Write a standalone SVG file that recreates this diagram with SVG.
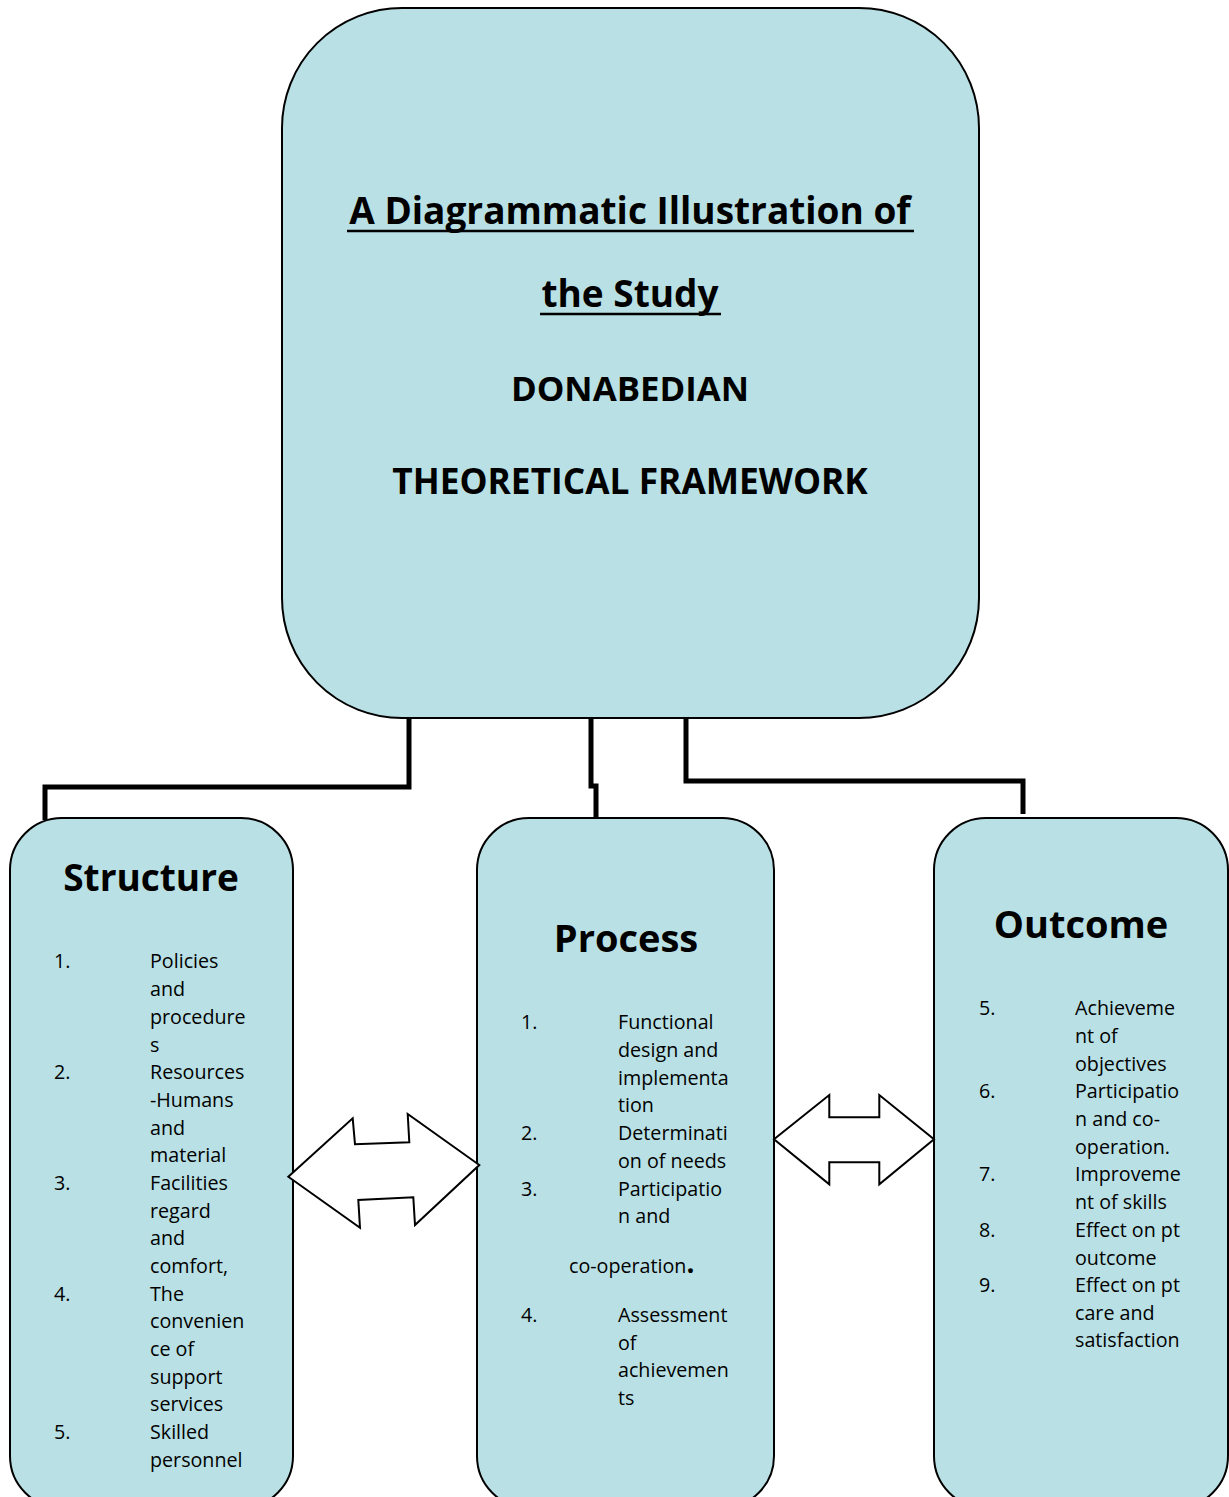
<svg xmlns="http://www.w3.org/2000/svg" width="1229" height="1497" viewBox="0 0 1229 1497">
<style>
.box{fill:#b9e0e4;stroke:#000;stroke-width:2}
.conn{fill:none;stroke:#000;stroke-width:5}
.arr{fill:#fff;stroke:#000;stroke-width:2;stroke-linejoin:miter}
text{font-family:"Open Sans","Liberation Sans",sans-serif;fill:#000}
.t{font-weight:bold;font-size:37px;text-anchor:middle}
.h{font-weight:bold;font-size:38px;text-anchor:middle}
.l{font-size:19.7px}
.ul{stroke:#000;stroke-width:2.5}
</style>
<rect width="1229" height="1497" fill="#fff"/>
<g id="connectors">
<path class="conn" d="M409,718 V787 H45 V820"/>
<path class="conn" d="M591,718 V786 H596 V820"/>
<path class="conn" d="M686,718 V781 H1023 V814"/>
</g>
<g id="top">
<rect class="box" x="282" y="8" width="697" height="710" rx="120" ry="120"/>
<text class="t" x="630" y="224">A Diagrammatic Illustration of</text>
<line class="ul" x1="347" y1="231" x2="914" y2="231"/>
<text class="t" x="630" y="307">the Study</text>
<line class="ul" x1="540" y1="314" x2="721" y2="314"/>
<text class="t" x="630" y="401" style="font-size:34.8px">DONABEDIAN</text>
<text class="t" x="630" y="494" style="font-size:35.3px">THEORETICAL FRAMEWORK</text>
</g>
<g id="structure">
<rect class="box" x="10" y="818" width="283" height="690" rx="52" ry="52"/>
<text class="h" x="151" y="891" style="font-size:37px">Structure</text>
<text class="l" x="54" y="968">1.</text>
<text class="l" x="150" y="968">Policies</text>
<text class="l" x="150" y="996">and</text>
<text class="l" x="150" y="1024">procedure</text>
<text class="l" x="150" y="1052">s</text>
<text class="l" x="54" y="1079">2.</text>
<text class="l" x="150" y="1079">Resources</text>
<text class="l" x="150" y="1107">-Humans</text>
<text class="l" x="150" y="1135">and</text>
<text class="l" x="150" y="1162">material</text>
<text class="l" x="54" y="1190">3.</text>
<text class="l" x="150" y="1190">Facilities</text>
<text class="l" x="150" y="1218">regard</text>
<text class="l" x="150" y="1245">and</text>
<text class="l" x="150" y="1273">comfort,</text>
<text class="l" x="54" y="1301">4.</text>
<text class="l" x="150" y="1301">The</text>
<text class="l" x="150" y="1328">convenien</text>
<text class="l" x="150" y="1356">ce of</text>
<text class="l" x="150" y="1384">support</text>
<text class="l" x="150" y="1411">services</text>
<text class="l" x="54" y="1439">5.</text>
<text class="l" x="150" y="1439">Skilled</text>
<text class="l" x="150" y="1467">personnel</text>
</g>
<g id="process">
<rect class="box" x="477" y="818" width="297" height="690" rx="52" ry="52"/>
<text class="h" x="626" y="952">Process</text>
<text class="l" x="521" y="1029">1.</text>
<text class="l" x="618" y="1029">Functional</text>
<text class="l" x="618" y="1057">design and</text>
<text class="l" x="618" y="1085">implementa</text>
<text class="l" x="618" y="1112">tion</text>
<text class="l" x="521" y="1140">2.</text>
<text class="l" x="618" y="1140">Determinati</text>
<text class="l" x="618" y="1168">on of needs</text>
<text class="l" x="521" y="1196">3.</text>
<text class="l" x="618" y="1196">Participatio</text>
<text class="l" x="618" y="1223">n and</text>
<text class="l" x="569" y="1273">co-operation<tspan style="font-size:28px;font-weight:bold">.</tspan></text>
<text class="l" x="521" y="1322">4.</text>
<text class="l" x="618" y="1322">Assessment</text>
<text class="l" x="618" y="1350">of</text>
<text class="l" x="618" y="1377">achievemen</text>
<text class="l" x="618" y="1405">ts</text>
</g>
<g id="outcome">
<rect class="box" x="934" y="818" width="294" height="690" rx="52" ry="52"/>
<text class="h" x="1081" y="938">Outcome</text>
<text class="l" x="979" y="1015">5.</text>
<text class="l" x="1075" y="1015">Achieveme</text>
<text class="l" x="1075" y="1043">nt of</text>
<text class="l" x="1075" y="1071">objectives</text>
<text class="l" x="979" y="1098">6.</text>
<text class="l" x="1075" y="1098">Participatio</text>
<text class="l" x="1075" y="1126">n and co-</text>
<text class="l" x="1075" y="1154">operation.</text>
<text class="l" x="979" y="1181">7.</text>
<text class="l" x="1075" y="1181">Improveme</text>
<text class="l" x="1075" y="1209">nt of skills</text>
<text class="l" x="979" y="1237">8.</text>
<text class="l" x="1075" y="1237">Effect on pt</text>
<text class="l" x="1075" y="1265">outcome</text>
<text class="l" x="979" y="1292">9.</text>
<text class="l" x="1075" y="1292">Effect on pt</text>
<text class="l" x="1075" y="1320">care and</text>
<text class="l" x="1075" y="1347">satisfaction</text>
</g>
<g id="arrow1">
<polygon class="arr" points="288.3,1176.7 352.7,1118.3 355,1144.3 409.3,1142.3 407.7,1114 479.3,1165 415,1225 413.3,1197.3 358.3,1200 360,1227.7"/>
</g>
<g id="arrow2">
<polygon class="arr" points="774,1139.3 829.3,1095 829.3,1117.3 879.3,1117.3 879.3,1095 934,1139.3 879.3,1184.3 879.3,1162.3 829.3,1162.3 829.3,1184.3"/>
</g>
</svg>
